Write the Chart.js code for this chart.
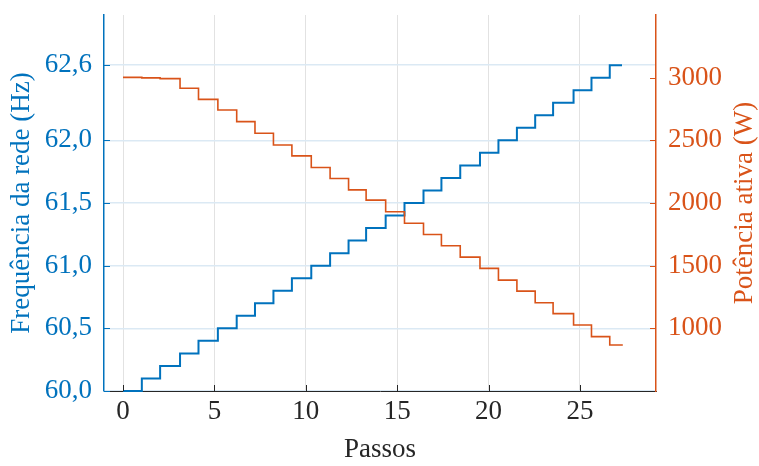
<!DOCTYPE html>
<html>
<head>
<meta charset="utf-8">
<script src="https://cdn.jsdelivr.net/npm/chart.js@4/dist/chart.umd.min.js"></script>
<style>
  html, body { margin: 0; padding: 0; background: #fff; }
  #wrap { width: 759px; height: 466px; position: relative; }
</style>
</head>
<body>
<div id="wrap"><canvas id="chart"></canvas></div>
<script>
// --- Data ---
// x positions where each step starts (last value = end of record)
const stepX = [0, 1.03, 2.03, 3.12, 4.13, 5.19, 6.22, 7.22, 8.23, 9.24, 10.3, 11.33, 12.34, 13.3,
  14.37, 15.4, 16.44, 17.42, 18.45, 19.53, 20.54, 21.55, 22.55, 23.53, 24.65, 25.63, 26.63, 27.3];
// grid frequency (Hz)
const frequency = [60.0, 60.1, 60.2, 60.3, 60.4, 60.5, 60.6, 60.7, 60.8, 60.9, 61.0, 61.1, 61.2, 61.3,
  61.4, 61.5, 61.6, 61.7, 61.8, 61.9, 62.0, 62.1, 62.2, 62.3, 62.4, 62.5, 62.6, 62.6];
// active power (W)
const power = [3002, 2998, 2992, 2915, 2827, 2742, 2649, 2556, 2463, 2376, 2283, 2195, 2105, 2023,
  1930, 1839, 1749, 1659, 1568, 1478, 1385, 1297, 1204, 1117, 1027, 934, 867, 862];

const xTicks = [0, 5, 10, 15, 20, 25];
const freqTicks = [60.0, 60.5, 61.0, 61.5, 62.0, 62.6];
const powerTicks = [1000, 1500, 2000, 2500, 3000];

const BLUE = '#0072BD';
const ORANGE = '#D95319';
const DARK = '#262626';
const FONT = "'Liberation Serif', 'Times New Roman', serif";
const FSIZE = 27;

// MATLAB-style ticks drawn inside the plot box, plus the right title read bottom-up
const innerTicks = {
  id: 'innerTicks',
  afterDraw(chart) {
    const { ctx, chartArea } = chart;
    const sx = chart.scales.x, sy = chart.scales.y, sy2 = chart.scales.y2;
    const len = 6;
    ctx.save();
    ctx.lineWidth = 1;
    ctx.strokeStyle = DARK;
    xTicks.forEach(v => {
      const px = Math.round(sx.getPixelForValue(v)) + 0.5;
      ctx.beginPath();
      ctx.moveTo(px, chartArea.bottom);
      ctx.lineTo(px, chartArea.bottom - len);
      ctx.stroke();
    });
    ctx.strokeStyle = BLUE;
    freqTicks.forEach(v => {
      const py = Math.round(sy.getPixelForValue(v)) + 0.5;
      ctx.beginPath();
      ctx.moveTo(chartArea.left, py);
      ctx.lineTo(chartArea.left + len, py);
      ctx.stroke();
    });
    ctx.strokeStyle = ORANGE;
    powerTicks.forEach(v => {
      const py = Math.round(sy2.getPixelForValue(v)) + 0.5;
      ctx.beginPath();
      ctx.moveTo(chartArea.right, py);
      ctx.lineTo(chartArea.right - len, py);
      ctx.stroke();
    });

    // right axis title, rotated like MATLAB (bottom to top)
    ctx.translate(745, (chartArea.top + chartArea.bottom) / 2);
    ctx.rotate(-Math.PI / 2);
    ctx.fillStyle = ORANGE;
    ctx.font = FSIZE + 'px ' + FONT;
    ctx.textAlign = 'center';
    ctx.textBaseline = 'middle';
    ctx.fillText('Potência ativa (W)', 0, 0);
    ctx.restore();
  }
};

const fmtComma = v => Number(v).toFixed(1).replace('.', ',');

// fixed axis boxes so the plot area sits where the figure has it
const fixWidth = w => s => { s.width = w; s.paddingTop = 0; s.paddingBottom = 0; };

new Chart(document.getElementById('chart'), {
  type: 'line',
  data: {
    datasets: [
      {
        label: 'Frequência',
        data: stepX.map((x, i) => ({ x, y: frequency[i] })),
        yAxisID: 'y',
        borderColor: BLUE,
        borderWidth: 2,
        stepped: true,
        pointRadius: 0,
        clip: 4,
        order: 2
      },
      {
        label: 'Potência',
        data: stepX.map((x, i) => ({ x, y: power[i] })),
        yAxisID: 'y2',
        borderColor: ORANGE,
        borderWidth: 1.6,
        stepped: true,
        pointRadius: 0,
        clip: 4,
        order: 1
      }
    ]
  },
  options: {
    responsive: true,
    maintainAspectRatio: false,
    animation: false,
    layout: { padding: { top: 15, left: 0, right: 0, bottom: 0 } },
    plugins: {
      legend: { display: false },
      tooltip: { enabled: false }
    },
    scales: {
      x: {
        type: 'linear',
        min: -1.04,
        max: 29.16,
        afterBuildTicks: s => { s.ticks = xTicks.map(v => ({ value: v })); },
        afterFit: s => { s.height = 75; s.paddingLeft = 0; s.paddingRight = 0; },
        grid: { color: '#e2e2e2', lineWidth: 1, drawTicks: false },
        border: { color: DARK, width: 1 },
        ticks: { color: DARK, padding: 5, font: { family: FONT, size: FSIZE } },
        title: {
          display: true, text: 'Passos', color: DARK,
          font: { family: FONT, size: FSIZE }, padding: { top: 0, bottom: 0 }
        }
      },
      y: {
        position: 'left',
        min: 60.0,
        max: 63.0,
        afterBuildTicks: s => { s.ticks = freqTicks.map(v => ({ value: v })); },
        afterFit: fixWidth(104),
        grid: { color: '#dbe9f4', lineWidth: 1.5, drawTicks: false },
        border: { color: BLUE, width: 1.5 },
        ticks: {
          color: BLUE, padding: 12, font: { family: FONT, size: FSIZE },
          callback: v => fmtComma(v)
        },
        title: {
          display: true, text: 'Frequência da rede (Hz)', color: BLUE,
          font: { family: FONT, size: FSIZE }, padding: { top: 6, bottom: 0 }
        }
      },
      y2: {
        position: 'right',
        min: 500,
        max: 3500,
        afterBuildTicks: s => { s.ticks = powerTicks.map(v => ({ value: v })); },
        afterFit: fixWidth(103),
        grid: { display: false, drawTicks: false },
        border: { color: ORANGE, width: 1.5 },
        ticks: {
          color: ORANGE, padding: 12, font: { family: FONT, size: FSIZE },
          callback: v => String(v)
        },
        title: { display: false }
      }
    }
  },
  plugins: [innerTicks]
});
</script>
</body>
</html>
